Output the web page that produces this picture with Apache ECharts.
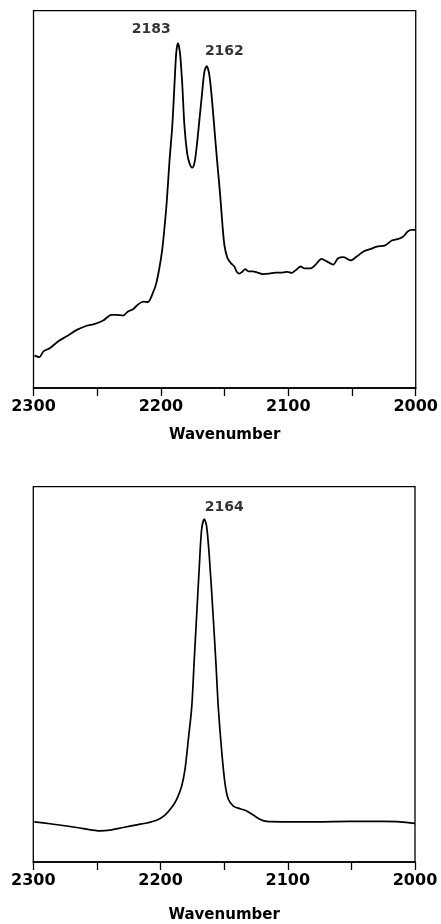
<!DOCTYPE html>
<html>
<head>
<meta charset="utf-8">
<script src="https://cdn.jsdelivr.net/npm/echarts@6/dist/echarts.min.js"></script>
<style>
  html, body { margin: 0; padding: 0; background: #fff; }
  #chart { width: 441px; height: 924px; }
</style>
</head>
<body>
<div id="chart"></div>
<script>
// top spectrum (wavenumber, relative absorbance 0..100)
var topWn = [2299.2, 2295.3, 2292.2, 2287, 2280.5, 2274, 2266, 2258.3, 2251.8, 2245.3, 2238.8, 2235, 2229.7,
  2225.8, 2221.9, 2218, 2214, 2210.2, 2206.3, 2203.6, 2201, 2199, 2197.1, 2195.3, 2193.2, 2191.1, 2189.3,
  2188, 2186.7, 2185, 2183.3, 2181.5, 2179.4, 2177.6, 2175.5, 2173.7, 2171.9, 2169.8, 2167.7, 2165.9,
  2164.1, 2162, 2159.9, 2157.3, 2155.5, 2153.6, 2151.6, 2150, 2147.7, 2145.1, 2142.4, 2140.6, 2138.5,
  2135.9, 2133.9, 2131.3, 2128.1, 2124.2, 2120.3, 2115.1, 2109.9, 2104.7, 2100.8, 2097.4, 2094.3, 2090.4,
  2087, 2082.6, 2078.6, 2073.9, 2069.5, 2064.8, 2060.9, 2056.5, 2051.3, 2046.1, 2040.9, 2035.7, 2030.5,
  2024, 2018.8, 2013.5, 2009.6, 2006.3, 2003.1, 2000.5]
var topAbs = [8.6, 8.2, 9.7, 10.6, 12.4, 13.7, 15.4, 16.5, 17.0, 17.9, 19.4, 19.4, 19.2,
  20.3, 20.9, 22.1, 22.9, 22.8, 25.2, 27.8, 32.2, 36.6, 42.8, 49.9, 60.5, 69.3, 80.8,
  88.7, 91.4, 88.7, 80.8, 69.3, 62.2, 59.6, 58.4, 59.6, 64, 71, 78.1, 83.8,
  85.3, 83, 76.3, 65.8, 58.7, 51.6, 42.8, 37.5, 34.4, 33.1, 32.2, 30.9, 30.3,
  30.9, 31.5, 30.9, 30.9, 30.6, 30.2, 30.3, 30.6, 30.6, 30.8, 30.5, 31.2, 32.2,
  31.7, 31.7, 32.7, 34.2, 33.5, 32.7, 34.4, 34.7, 33.8, 34.9, 36.2, 36.8, 37.5,
  37.8, 39.1, 39.5, 40.2, 41.5, 41.9, 41.9]

// bottom spectrum
var botWn = [2299.2, 2286.9, 2273.8, 2260.7, 2247.6, 2239.7, 2229.3, 2218.8, 2210.9, 2203.1, 2196.5,
  2191.3, 2187.3, 2183.4, 2180.8, 2178.2, 2175.5, 2173.7, 2171.6, 2169.5, 2167.7, 2165.6, 2163.8,
  2161.7, 2159, 2156.4, 2154.6, 2152, 2149.4, 2146.7, 2142.8, 2137.6, 2132.3, 2127.1, 2121.9,
  2116.6, 2103.5, 2077.3, 2051.1, 2024.9, 2011.8, 2000]
var botAbs = [10.7, 10.2, 9.6, 8.9, 8.3, 8.5, 9.2, 9.9, 10.4, 11.1, 12.5,
  14.5, 16.7, 20.2, 24.6, 32.5, 41.2, 52.6, 65.8, 78.9, 88.6, 91.4, 89.5,
  81.6, 67.5, 52.6, 41.2, 29.8, 21.1, 16.7, 14.9, 14.2, 13.6, 12.5, 11.4,
  10.8, 10.7, 10.7, 10.8, 10.8, 10.7, 10.3]

// peak annotations: text, label position (wn, abs)
var topPeakText = ['2183', '2162']
var topPeakWn = [2207.5, 2150.2]
var topPeakAbs = [95.1, 89.2]
var botPeakText = ['2164']
var botPeakWn = [2150]
var botPeakAbs = [94.6]

var xTitle = 'Wavenumber'

function pairs(xs, ys) {
  return xs.map(function(x, i) { return [x, ys[i]] })
}

function labelData(texts, xs, ys) {
  return texts.map(function(t, i) { return { name: t, value: [xs[i], ys[i]] } })
}

function makeX(gridIndex, nameGap) {
  return {
    type: 'value',
    gridIndex: gridIndex,
    inverse: true,
    min: 2000,
    max: 2300,
    interval: 50,
    name: xTitle,
    nameLocation: 'middle',
    nameGap: nameGap,
    nameTextStyle: { color: '#000', fontFamily: 'DejaVu Sans', fontWeight: 'bold', fontSize: 15 },
    axisLine: { lineStyle: { color: '#000', width: 1.5 } },
    axisTick: { show: true, inside: false, length: 8, lineStyle: { color: '#000', width: 1.3 } },
    axisLabel: {
      margin: 11,
      color: '#000',
      fontFamily: 'DejaVu Sans',
      fontWeight: 'bold',
      fontSize: 16,
      formatter: function(v) { return v % 100 === 0 ? String(v) : '' }
    },
    splitLine: { show: false }
  }
}

function makeY(gridIndex) {
  return {
    type: 'value',
    gridIndex: gridIndex,
    min: 0,
    max: 100,
    axisLine: { show: false },
    axisTick: { show: false },
    axisLabel: { show: false },
    splitLine: { show: false }
  }
}

var peakLabel = {
  show: true,
  position: 'inside',
  formatter: '{b}',
  color: '#000',
  textBorderWidth: 0,
  fontFamily: 'DejaVu Sans',
  fontWeight: 'bold',
  fontSize: 14
}

var chart = echarts.init(document.getElementById('chart'))
chart.setOption({
  backgroundColor: '#fff',
  animation: false,
  grid: [
    { left: 33.5, right: 24, top: 10.7, height: 377.3, show: true, borderColor: '#000', borderWidth: 1.3 },
    { left: 33.3, right: 26, top: 486.7, height: 380, show: true, borderColor: '#000', borderWidth: 1.3 }
  ],
  xAxis: [makeX(0, 40), makeX(1, 46)],
  yAxis: [makeY(0), makeY(1)],
  series: [
    {
      type: 'line',
      xAxisIndex: 0,
      yAxisIndex: 0,
      data: pairs(topWn, topAbs),
      smooth: 0.3,
      symbol: 'none',
      lineStyle: { color: '#000', width: 1.8 }
    },
    {
      type: 'line',
      xAxisIndex: 1,
      yAxisIndex: 1,
      data: pairs(botWn, botAbs),
      smooth: 0.3,
      symbol: 'none',
      lineStyle: { color: '#000', width: 1.7 }
    },
    {
      type: 'scatter',
      xAxisIndex: 0,
      yAxisIndex: 0,
      symbolSize: 0,
      silent: true,
      label: peakLabel,
      data: labelData(topPeakText, topPeakWn, topPeakAbs)
    },
    {
      type: 'scatter',
      xAxisIndex: 1,
      yAxisIndex: 1,
      symbolSize: 0,
      silent: true,
      label: peakLabel,
      data: labelData(botPeakText, botPeakWn, botPeakAbs)
    }
  ]
})
</script>
</body>
</html>
